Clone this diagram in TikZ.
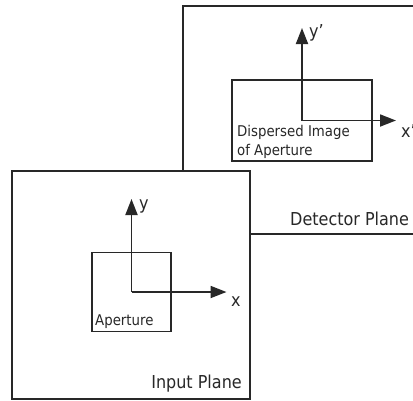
\documentclass[tikz,border=0pt]{standalone}
\usepackage{fontspec}
\setmainfont{DejaVu Sans Condensed}
\usetikzlibrary{arrows.meta,positioning}
\definecolor{ink}{RGB}{40,40,40}

\begin{document}
\begin{tikzpicture}[
    x=1pt, y=-1pt,
    plane/.style={rectangle, draw=ink, line width=1.8pt, fill=white, inner sep=0pt},
    box/.style={rectangle, draw=ink, line width=1.8pt, inner sep=0pt},
    axis/.style={-{Triangle[length=16pt, width=12pt]}, draw=ink, line width=1.8pt},
    lbl/.style={text=ink, inner sep=0pt, font=\fontsize{14.8}{18.5}\selectfont, align=left},
    big/.style={text=ink, inner sep=0pt, font=\fontsize{17.8}{20}\selectfont}
  ]
    \useasboundingbox (0,0) rectangle (413,400);
    \clip (0,0) rectangle (413,400);
    \node[plane, minimum width=267pt, minimum height=228pt] (det) at (316.5,120) {};
    \node[box, minimum width=140pt, minimum height=81pt] (img) at (302,120.5) {};
    \coordinate (ytip2) at (302,28);
    \coordinate (xtip2) at (396,120.5);
    \draw[axis] (img.center) -- (ytip2);
    \draw[axis] (img.center) -- (xtip2);
    \node[big, anchor=base west] (yl2) at (309,37) {y’};
    \node[big, anchor=base west] (xl2) at (401,137) {x’};
    \node[lbl, anchor=base west] (imgtxt) at (237,155) {Dispersed Image\\of Aperture};
    \node[big, anchor=base west] (detl) at (290,225) {Detector Plane};
    \node[plane, minimum width=238pt, minimum height=228pt] (inp) at (131,285) {};
    \node[box, minimum width=79pt, minimum height=79pt] (ap) at (131.5,292) {};
    \coordinate (ytip) at (131.5,199);
    \coordinate (xtip) at (226.5,292);
    \draw[axis] (ap.center) -- (ytip);
    \draw[axis] (ap.center) -- (xtip);
    \node[big, anchor=base west] (yl) at (139,209) {y};
    \node[big, anchor=base west] (xl) at (231,306) {x};
    \node[lbl, anchor=base west] (aptxt) at (95,325.5) {Aperture};
    \node[big, anchor=base east] (inpl) at (242,388) {Input Plane};
  \end{tikzpicture}
\end{document}
